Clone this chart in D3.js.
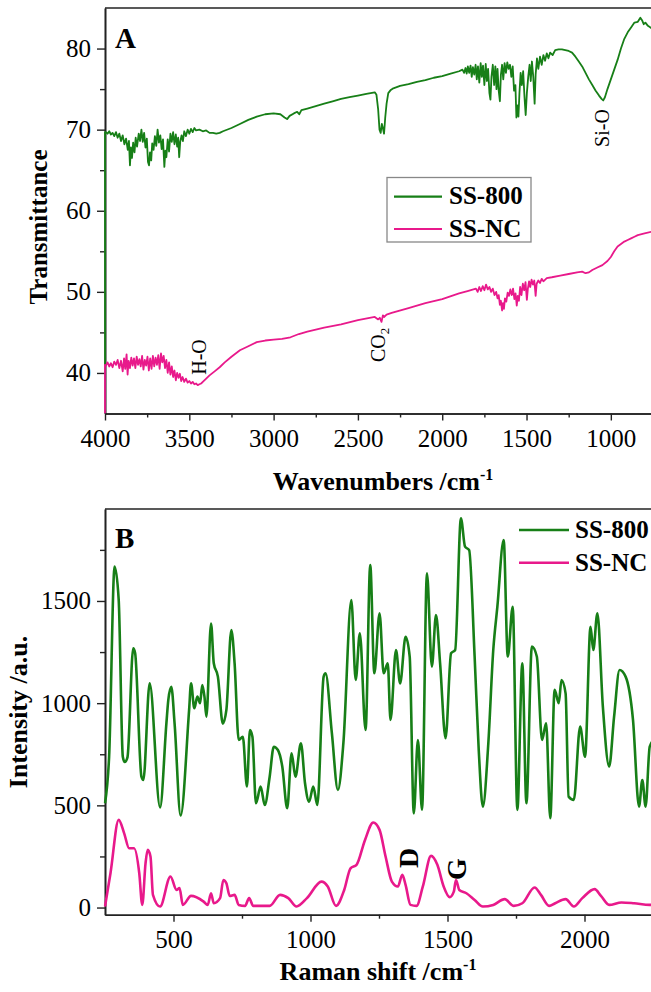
<!DOCTYPE html>
<html>
<head>
<meta charset="utf-8">
<script src="https://cdn.jsdelivr.net/npm/d3@7"></script>
<style>
  body { margin: 0; background: #fff; }
  text { font-family: "Liberation Serif", "Times New Roman", serif; fill: #000; }
</style>
</head>
<body>
<script>
// FTIR spectra (wavenumber, transmittance)
var ftirSS800 = [
  [4000,41.0],[4000,69.7],[3995,69.7],[3985,69.5],[3975,69.8],[3965,69.4],[3955,69.6],[3945,69.2],[3935,69.7],[3925,69.0],
  [3915,69.5],[3905,68.6],[3895,69.3],[3885,68.2],[3875,68.9],[3865,67.5],[3858,68.6],[3852,65.6],[3846,67.8],[3840,66.5],
  [3833,68.4],[3825,67.2],[3818,69.0],[3810,67.9],[3800,69.5],[3792,68.6],[3784,70.0],[3776,68.5],[3768,69.6],[3760,67.8],
  [3752,68.9],[3745,66.0],[3739,65.6],[3733,67.2],[3726,66.2],[3720,68.3],[3712,67.5],[3704,69.2],[3696,68.0],[3688,70.0],
  [3680,68.4],[3672,69.3],[3664,67.6],[3656,68.8],[3648,65.4],[3642,67.4],[3636,66.6],[3628,68.8],[3620,67.3],[3612,69.5],
  [3604,68.5],[3596,69.7],[3588,68.2],[3580,69.4],[3572,67.9],[3566,69.0],[3560,66.6],[3554,68.5],[3546,69.3],[3538,68.6],
  [3530,69.8],[3520,69.2],[3510,70.0],[3500,69.5],[3490,70.1],[3480,69.7],[3470,70.2],[3460,69.9],[3440,70.0],[3420,69.8],
  [3400,69.9],[3380,69.6],[3360,69.6],[3340,69.5],[3320,69.6],[3300,69.8],[3250,70.2],[3200,70.7],[3150,71.2],[3100,71.6],
  [3050,71.9],[3000,72.0],[2960,71.9],[2935,71.5],[2920,71.3],[2905,71.7],[2880,72.0],[2860,72.2],[2848,71.9],[2835,72.4],
  [2800,72.6],[2750,72.9],[2700,73.2],[2650,73.5],[2600,73.8],[2550,74.0],[2500,74.2],[2450,74.4],[2400,74.6],[2390,74.3],
  [2380,72.5],[2372,70.0],[2365,69.6],[2358,70.7],[2352,70.2],[2345,69.5],[2338,71.5],[2330,73.2],[2320,74.5],[2305,74.9],
  [2290,75.1],[2250,75.4],[2200,75.6],[2150,75.9],[2100,76.1],[2050,76.4],[2000,76.6],[1950,76.9],[1900,77.2],[1880,77.4],
  [1870,77.0],[1862,77.6],[1855,76.9],[1848,77.8],[1840,77.0],[1832,77.9],[1825,76.5],[1818,77.7],[1810,76.8],[1802,78.0],
  [1795,76.2],[1788,77.8],[1780,75.8],[1772,78.2],[1765,76.5],[1758,77.9],[1750,75.5],[1742,78.1],[1735,76.0],[1728,77.5],
  [1720,74.5],[1714,73.7],[1708,76.5],[1700,78.0],[1692,75.5],[1685,77.8],[1678,75.0],[1672,77.5],[1665,74.8],[1658,73.5],
  [1652,76.8],[1645,78.0],[1638,76.2],[1630,78.2],[1622,77.0],[1614,78.3],[1606,77.5],[1598,78.0],[1590,76.5],[1582,77.8],
  [1574,74.8],[1566,75.5],[1560,71.5],[1554,73.0],[1548,71.6],[1542,74.5],[1535,77.0],[1528,75.5],[1520,77.2],[1512,74.0],
  [1505,71.8],[1498,74.5],[1490,76.5],[1482,78.0],[1475,76.0],[1468,78.4],[1460,76.5],[1452,73.2],[1446,76.8],[1438,78.8],
  [1430,77.5],[1420,79.0],[1410,78.0],[1400,79.2],[1390,78.5],[1380,79.4],[1370,78.8],[1360,79.5],[1345,79.2],[1330,79.8],
  [1310,79.9],[1290,79.9],[1270,79.8],[1250,79.7],[1230,79.5],[1210,79.0],[1190,78.4],[1170,77.8],[1150,77.0],[1130,76.2],
  [1110,75.5],[1090,74.8],[1070,74.2],[1055,73.8],[1045,73.6],[1035,74.0],[1020,75.0],[1000,76.2],[980,77.4],[960,78.6],
  [940,80.0],[920,81.2],[900,82.0],[880,82.6],[860,83.2],[840,83.3],[825,83.8],[815,83.5],[805,83.0],[795,83.2],
  [780,82.8],[765,82.6],[750,82.4],[730,82.1],[700,81.6]
];
var ftirSSNC = [
  [4000,35.0],[4000,41.0],[3995,40.9],[3985,41.3],[3975,40.8],[3965,41.2],[3955,40.7],[3945,41.4],[3935,41.0],[3925,41.6],
  [3915,40.6],[3905,41.5],[3895,40.2],[3887,41.8],[3880,40.5],[3872,42.3],[3866,39.8],[3860,41.5],[3852,40.6],[3844,41.9],
  [3836,40.9],[3828,41.8],[3820,40.6],[3812,42.0],[3804,41.0],[3796,41.7],[3788,40.8],[3780,42.1],[3772,40.4],[3764,41.6],
  [3756,40.9],[3748,42.0],[3740,40.3],[3732,41.8],[3724,40.5],[3716,42.1],[3708,40.8],[3700,41.9],[3692,41.0],[3684,42.2],
  [3676,40.5],[3668,42.4],[3660,41.3],[3652,42.1],[3644,40.6],[3636,41.6],[3628,40.0],[3620,41.3],[3612,39.8],[3604,40.8],
  [3596,39.5],[3588,40.3],[3580,39.1],[3572,40.0],[3564,39.4],[3556,39.9],[3548,39.0],[3540,39.5],[3530,38.9],[3520,39.3],
  [3510,38.8],[3500,39.0],[3490,38.7],[3480,38.9],[3470,38.6],[3460,38.7],[3450,38.5],[3440,38.6],[3430,38.7],[3420,38.9],
  [3400,39.3],[3380,39.7],[3350,40.2],[3320,40.7],[3290,41.3],[3250,42.0],[3200,42.8],[3150,43.3],[3100,43.8],[3050,44.0],
  [3000,44.1],[2950,44.2],[2900,44.4],[2850,44.8],[2800,45.1],[2700,45.6],[2600,46.0],[2500,46.5],[2400,46.9],[2380,46.6],
  [2370,46.8],[2360,46.3],[2352,47.1],[2345,46.9],[2330,47.2],[2300,47.4],[2200,48.0],[2100,48.6],[2000,49.1],[1900,49.8],
  [1850,50.1],[1800,50.4],[1790,50.0],[1780,50.6],[1770,50.1],[1760,50.7],[1750,50.2],[1740,50.9],[1730,50.3],[1720,50.6],
  [1710,50.0],[1700,50.4],[1690,49.6],[1680,50.0],[1672,49.2],[1665,49.6],[1658,48.4],[1652,48.9],[1645,47.7],[1640,48.6],
  [1634,47.9],[1628,49.2],[1620,48.8],[1612,49.9],[1604,49.5],[1596,50.3],[1588,49.6],[1580,50.4],[1572,49.1],[1565,49.8],
  [1558,48.3],[1552,49.5],[1545,48.9],[1538,50.6],[1530,49.6],[1522,51.0],[1514,50.2],[1506,51.2],[1498,49.0],[1492,50.4],
  [1485,51.3],[1478,50.6],[1470,51.5],[1462,50.9],[1454,51.4],[1446,49.5],[1440,51.0],[1430,51.4],[1420,51.1],[1410,51.6],
  [1400,51.3],[1380,51.7],[1350,51.8],[1300,52.0],[1250,52.2],[1200,52.4],[1170,52.5],[1150,52.3],[1130,52.4],[1110,52.7],
  [1080,53.0],[1050,53.3],[1020,53.8],[1000,54.3],[980,55.0],[960,55.6],[940,55.9],[920,56.2],[900,56.4],[880,56.6],
  [860,56.8],[840,57.0],[800,57.2],[760,57.4],[720,57.6],[700,57.7]
];
// Raman spectra (shift, intensity)
var ramanSS800 = [
  [250,510],[265,738],[285,1668],[300,1505],[315,738],[322,712],[332,735],[353,1268],[360,1244],[383,640],
  [390,624],[413,1097],[451,490],[474,900],[481,1015],[492,1080],[504,900],[526,450],[557,967],[564,1097],
  [576,975],[587,1032],[597,1000],[605,1089],[613,1032],[620,934],[637,1390],[647,1195],[662,1130],[680,900],
  [693,967],[711,1358],[723,1195],[738,820],[753,836],[768,592],[779,869],[788,836],[801,510],[818,592],
  [833,502],[851,640],[866,787],[881,771],[897,690],[915,486],[931,755],[945,640],[965,804],[980,608],
  [995,518],[1010,592],[1025,502],[1048,1130],[1055,1146],[1078,853],[1100,575],[1120,804],[1149,1505],[1165,1113],
  [1180,1342],[1201,869],[1218,1676],[1233,1146],[1252,1440],[1267,1146],[1282,1195],[1292,918],[1312,1260],[1327,1097],
  [1347,1325],[1362,1228],[1377,461],[1392,820],[1407,478],[1425,1635],[1443,1179],[1458,1431],[1473,1195],[1493,828],
  [1513,1244],[1528,1260],[1549,1904],[1564,1766],[1579,1749],[1599,1228],[1614,771],[1629,494],[1649,804],[1667,1260],
  [1682,1472],[1705,1798],[1720,1228],[1738,1472],[1755,478],[1773,1195],[1788,510],[1808,1277],[1826,1228],[1845,820],
  [1860,902],[1875,437],[1891,1065],[1906,1000],[1916,1113],[1931,1048],[1942,543],[1961,527],[1984,885],[2002,738],
  [2022,1374],[2032,1260],[2047,1440],[2067,983],[2090,690],[2108,934],[2128,1162],[2150,1130],[2177,918],[2199,494],
  [2211,624],[2223,494],[2238,787],[2255,820],[2275,700]
];
var ramanSSNC = [
  [250,5],[270,168],[300,429],[320,363],[338,290],[356,290],[375,168],[386,13],[398,217],[406,282],
  [416,250],[425,62],[451,5],[489,152],[511,86],[522,95],[534,13],[564,57],[610,29],[625,13],
  [637,70],[647,21],[670,46],[682,135],[693,119],[705,57],[723,62],[738,13],[761,8],[776,46],
  [791,8],[851,8],[889,62],[919,46],[949,5],[987,46],[1040,127],[1063,103],[1093,8],[1123,86],
  [1146,192],[1168,209],[1199,331],[1229,416],[1252,380],[1274,250],[1297,127],[1319,103],[1335,160],[1347,111],
  [1365,13],[1387,8],[1410,103],[1440,253],[1463,209],[1486,103],[1508,51],[1523,78],[1531,135],[1543,86],
  [1569,70],[1599,37],[1629,5],[1667,13],[1709,41],[1742,8],[1773,21],[1818,98],[1841,62],[1871,8],
  [1893,21],[1931,41],[1961,5],[1992,46],[2037,90],[2060,57],[2090,13],[2135,25],[2181,21],[2238,13],[2280,15]
];
// ticks (labels past the right edge of the picture are left out)
var ftirMajor = [4000,3500,3000,2500,2000,1500,1000];
var ftirMinor = [3750,3250,2750,2250,1750,1250,750];
var transMajor = [40,50,60,70,80];
var transMinor = [45,55,65,75];
var ramanMajor = [500,1000,1500,2000];
var ramanMinor = [750,1250,1750,2250];
var intMajor = [0,500,1000,1500];
var intMinor = [250,750,1250,1750];
var seriesNames = ["SS-800","SS-NC"];
var green = "#177f17", pink = "#e8198b";

var svg = d3.select("body").append("svg")
    .attr("width", 651)
    .attr("height", 992);

// draw one panel: frame + ticks
function panel(x, y, xMaj, xMin, yMaj, yMin, id){
    var g = svg.append("g");
    var x0 = x.range()[0], x1 = x.range()[1], y0 = y.range()[0], y1 = y.range()[1];
    //clip a bit wider on the left so the lines can cover the spine
    g.append("clipPath").attr("id", id).append("rect")
        .attr("x", x0 - 1.5).attr("y", y1).attr("width", x1 - x0 + 1.5).attr("height", y0 - y1);
    //top line
    g.append("line").attr("x1", x0).attr("x2", x1).attr("y1", y1).attr("y2", y1)
        .attr("stroke", "#222").attr("stroke-width", 1.6);
    g.append("g").attr("transform", "translate(0," + y0 + ")")
        .call(d3.axisBottom(x).tickValues(xMaj).tickSize(7).tickPadding(9).tickSizeOuter(0).tickFormat(d3.format("d")));
    g.append("g").attr("transform", "translate(0," + y0 + ")")
        .call(d3.axisBottom(x).tickValues(xMin).tickSize(4).tickSizeOuter(0).tickFormat(""));
    g.append("g").attr("transform", "translate(" + x0 + ",0)")
        .call(d3.axisLeft(y).tickValues(yMaj).tickSize(8).tickPadding(6).tickSizeOuter(0).tickFormat(d3.format("d")));
    g.append("g").attr("transform", "translate(" + x0 + ",0)")
        .call(d3.axisLeft(y).tickValues(yMin).tickSize(5).tickSizeOuter(0).tickFormat(""));
    g.selectAll(".domain").attr("stroke", "#222").attr("stroke-width", 1.6);
    g.selectAll(".tick line").attr("stroke", "#222").attr("stroke-width", 1.4);
    g.selectAll(".tick text").style("font-family", "Liberation Serif").style("font-size", "25px").attr("fill", "#000");
    return g;
}

// ---- panel A ----
var xA = d3.scaleLinear().domain([4000, 400]).range([105, 712]);
var yA = d3.scaleLinear().domain([35, 85]).range([413.5, 8]);
panel(xA, yA, ftirMajor, ftirMinor, transMajor, transMinor, "clipA");
var lineA = d3.line().x(function(d){ return xA(d[0]); }).y(function(d){ return yA(d[1]); });
[ftirSS800, ftirSSNC].forEach(function(s, i){
    svg.append("path").datum(s)
        .attr("clip-path", "url(#clipA)")
        .attr("d", lineA)
        .attr("fill", "none")
        .attr("stroke", i ? pink : green)
        .attr("stroke-width", 1.8)
        .attr("stroke-linejoin", "round");
});
svg.append("text").attr("x", 115).attr("y", 47.5)
    .style("font-size", "29px").style("font-weight", "bold").text("A");
svg.append("text").attr("transform", "translate(47,227) rotate(-90)")
    .attr("text-anchor", "middle").style("font-size", "25px").style("font-weight", "bold").text("Transmittance");
var tA = svg.append("text").attr("x", 383).attr("y", 490).attr("text-anchor", "middle")
    .style("font-size", "26px").style("font-weight", "bold").text("Wavenumbers /cm");
tA.append("tspan").attr("dy", -10).style("font-size", "16px").text("-1");
//peak labels
svg.append("text").attr("transform", "translate(609,128) rotate(-90)")
    .attr("text-anchor", "middle").style("font-size", "20px").text("Si-O");
svg.append("text").attr("transform", "translate(206,357) rotate(-90)")
    .attr("text-anchor", "middle").style("font-size", "20px").text("H-O");
var co2 = svg.append("text").attr("transform", "translate(385,362) rotate(-90)")
    .style("font-size", "20px").text("CO");
co2.append("tspan").attr("dy", 4).style("font-size", "13px").text("2");
//legend with box
var legA = svg.append("g");
legA.append("rect").attr("x", 387).attr("y", 177.5).attr("width", 144).attr("height", 64.5)
    .attr("fill", "#fff").attr("stroke", "#888").attr("stroke-width", 1.3);
seriesNames.forEach(function(n, i){
    var yy = 196.7 + i * 32.3;
    legA.append("line").attr("x1", 394).attr("x2", 442).attr("y1", yy).attr("y2", yy)
        .attr("stroke", i ? pink : green).attr("stroke-width", 2.2);
    legA.append("text").attr("x", 449).attr("y", yy + 7.5)
        .style("font-size", "25px").style("font-weight", "bold").text(n);
});

// ---- panel B ----
var xB = d3.scaleLinear().domain([250, 2500]).range([105, 721.5]);
var yB = d3.scaleLinear().domain([-35, 1950]).range([914.7, 509]);
panel(xB, yB, ramanMajor, ramanMinor, intMajor, intMinor, "clipB");
var lineB = d3.line().curve(d3.curveMonotoneX)
    .x(function(d){ return xB(d[0]); }).y(function(d){ return yB(d[1]); });
[ramanSS800, ramanSSNC].forEach(function(s, i){
    svg.append("path").datum(s)
        .attr("clip-path", "url(#clipB)")
        .attr("d", lineB)
        .attr("fill", "none")
        .attr("stroke", i ? pink : green)
        .attr("stroke-width", 2.6)
        .attr("stroke-linejoin", "round");
});
svg.append("text").attr("x", 115).attr("y", 547.5)
    .style("font-size", "29px").style("font-weight", "bold").text("B");
svg.append("text").attr("transform", "translate(27,712) rotate(-90)")
    .attr("text-anchor", "middle").style("font-size", "26px").style("font-weight", "bold").text("Intensity /a.u.");
var tB = svg.append("text").attr("x", 378).attr("y", 980).attr("text-anchor", "middle")
    .style("font-size", "26px").style("font-weight", "bold").text("Raman shift /cm");
tB.append("tspan").attr("dy", -10).style("font-size", "16px").text("-1");
svg.append("text").attr("transform", "translate(418,858) rotate(-90)")
    .attr("text-anchor", "middle").style("font-size", "28px").style("font-weight", "bold").text("D");
svg.append("text").attr("transform", "translate(466,869) rotate(-90)")
    .attr("text-anchor", "middle").style("font-size", "28px").style("font-weight", "bold").text("G");
seriesNames.forEach(function(n, i){
    var yy = 530 + i * 32.7;
    svg.append("line").attr("x1", 519).attr("x2", 569).attr("y1", yy).attr("y2", yy)
        .attr("stroke", i ? pink : green).attr("stroke-width", 2.6);
    svg.append("text").attr("x", 575).attr("y", yy + 8)
        .style("font-size", "25px").style("font-weight", "bold").text(n);
});
</script>
</body>
</html>
